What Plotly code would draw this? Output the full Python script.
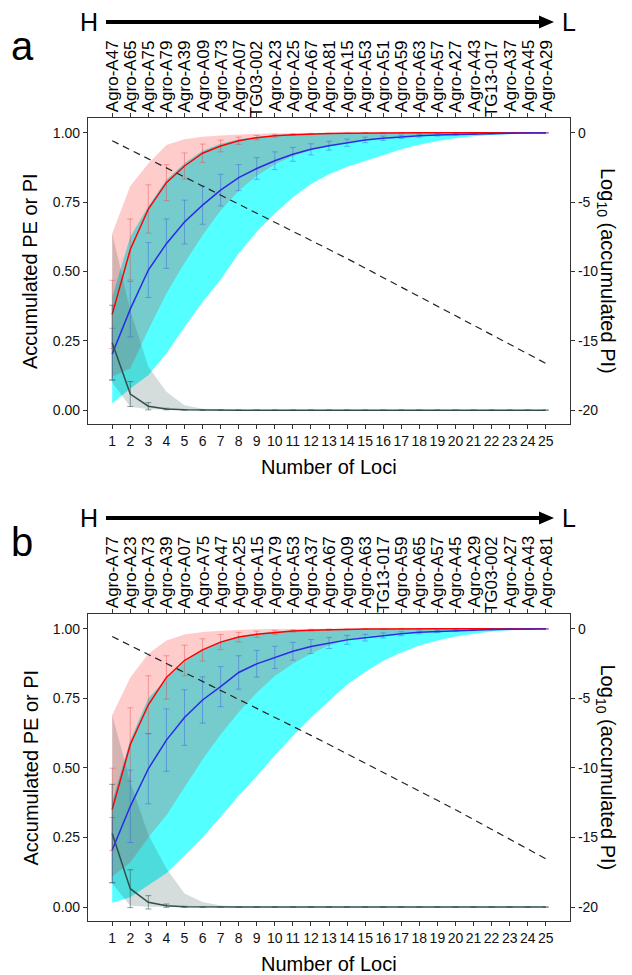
import plotly.graph_objects as go

# ---------------- data ----------------
loci = list(range(1, 26))

loci_names_a = ["Agro-A47", "Agro-A65", "Agro-A75", "Agro-A79", "Agro-A39", "Agro-A09", "Agro-A73",
                "Agro-A07", "TG03-002", "Agro-A23", "Agro-A25", "Agro-A67", "Agro-A81", "Agro-A15",
                "Agro-A53", "Agro-A51", "Agro-A59", "Agro-A63", "Agro-A57", "Agro-A27", "Agro-A43",
                "TG13-017", "Agro-A37", "Agro-A45", "Agro-A29"]
loci_names_b = ["Agro-A77", "Agro-A23", "Agro-A73", "Agro-A39", "Agro-A07", "Agro-A75", "Agro-A47",
                "Agro-A25", "Agro-A15", "Agro-A79", "Agro-A53", "Agro-A37", "Agro-A67", "Agro-A09",
                "Agro-A63", "TG13-017", "Agro-A59", "Agro-A65", "Agro-A57", "Agro-A45", "Agro-A29",
                "TG03-002", "Agro-A27", "Agro-A43", "Agro-A81"]

left_ticks = [0, 0.25, 0.5, 0.75, 1.0]
left_ticktext = ["0.00", "0.25", "0.50", "0.75", "1.00"]
right_ticks = [0, -5, -10, -15, -20]

# ---- panel a ----
red_a = [0.345, 0.579, 0.725, 0.82, 0.88, 0.926, 0.952, 0.971, 0.982, 0.989, 0.993, 0.996, 0.997,
         0.998, 0.999, 0.999, 1.0, 1.0, 1.0, 1.0, 1.0, 1.0, 1.0, 1.0, 1.0]
red_a_err = [0.123, 0.11, 0.087, 0.065, 0.047, 0.033, 0.021, 0.013, 0.008, 0.005, 0.003, 0.002,
             0.001, 0.001, 0.001, 0.0, 0.0, 0.0, 0.0, 0.0, 0.0, 0.0, 0.0, 0.0, 0.0]
red_a_hi = [0.637, 0.808, 0.889, 0.956, 0.976, 0.985, 0.99, 0.994, 0.996, 0.998, 0.999, 1.0, 1.0,
            1.0, 1.0, 1.0, 1.0, 1.0, 1.0, 1.0, 1.0, 1.0, 1.0, 1.0, 1.0]
red_a_lo = [0.12, 0.15, 0.29, 0.42, 0.53, 0.63, 0.72, 0.79, 0.845, 0.885, 0.915, 0.937, 0.953,
            0.966, 0.975, 0.982, 0.987, 0.991, 0.994, 0.996, 0.997, 0.998, 0.999, 1.0, 1.0]

blue_a = [0.202, 0.364, 0.505, 0.6, 0.678, 0.739, 0.793, 0.838, 0.871, 0.899, 0.922, 0.94, 0.953,
          0.964, 0.974, 0.98, 0.985, 0.989, 0.992, 0.994, 0.996, 0.997, 0.998, 0.999, 0.999]
blue_a_err = [0.093, 0.1, 0.099, 0.089, 0.079, 0.069, 0.057, 0.047, 0.039, 0.032, 0.025, 0.02,
              0.016, 0.013, 0.01, 0.008, 0.006, 0.005, 0.004, 0.003, 0.002, 0.002, 0.001, 0.001, 0.001]
blue_a_hi = [0.41, 0.625, 0.735, 0.83, 0.89, 0.935, 0.96, 0.976, 0.985, 0.99, 0.994, 0.996, 0.998,
             0.999, 0.999, 1.0, 1.0, 1.0, 1.0, 1.0, 1.0, 1.0, 1.0, 1.0, 1.0]
blue_a_lo = [0.024, 0.078, 0.126, 0.204, 0.3, 0.39, 0.47, 0.565, 0.643, 0.709, 0.767, 0.815, 0.85,
             0.877, 0.898, 0.92, 0.94, 0.957, 0.97, 0.98, 0.987, 0.992, 0.995, 0.997, 0.999]

pi_a = [0.243, 0.058, 0.014, 0.004, 0.001, 0.0, 0.0, 0.0, 0.0, 0.0, 0.0, 0.0, 0.0, 0.0, 0.0, 0.0,
        0.0, 0.0, 0.0, 0.0, 0.0, 0.0, 0.0, 0.0, 0.0]
pi_a_err = [0.135, 0.045, 0.013, 0.003, 0.001, 0.0, 0.0, 0.0, 0.0, 0.0, 0.0, 0.0, 0.0, 0.0, 0.0,
            0.0, 0.0, 0.0, 0.0, 0.0, 0.0, 0.0, 0.0, 0.0, 0.0]
pi_a_hi = [0.637, 0.36, 0.156, 0.066, 0.018, 0.005, 0.001, 0.0, 0.0, 0.0, 0.0, 0.0, 0.0, 0.0, 0.0,
           0.0, 0.0, 0.0, 0.0, 0.0, 0.0, 0.0, 0.0, 0.0, 0.0]
pi_a_lo = [0.1, 0.012, 0.003, 0.001, 0.0, 0.0, 0.0, 0.0, 0.0, 0.0, 0.0, 0.0, 0.0, 0.0, 0.0, 0.0,
           0.0, 0.0, 0.0, 0.0, 0.0, 0.0, 0.0, 0.0, 0.0]

logpi_a = [-0.58, -1.23, -1.88, -2.53, -3.18, -3.83, -4.48, -5.13, -5.78, -6.43, -7.08, -7.73,
           -8.38, -9.07, -9.76, -10.44, -11.13, -11.82, -12.5, -13.19, -13.88, -14.57, -15.25,
           -15.94, -16.63]

# ---- panel b ----
red_b = [0.351, 0.584, 0.727, 0.825, 0.886, 0.924, 0.952, 0.97, 0.98, 0.987, 0.992, 0.995, 0.997,
         0.998, 0.999, 0.999, 1.0, 1.0, 1.0, 1.0, 1.0, 1.0, 1.0, 1.0, 1.0]
red_b_err = [0.148, 0.132, 0.104, 0.078, 0.055, 0.04, 0.027, 0.017, 0.011, 0.007, 0.004, 0.003,
             0.002, 0.001, 0.001, 0.0, 0.0, 0.0, 0.0, 0.0, 0.0, 0.0, 0.0, 0.0, 0.0]
red_b_hi = [0.69, 0.825, 0.91, 0.958, 0.979, 0.988, 0.993, 0.996, 0.998, 0.999, 1.0, 1.0, 1.0,
            1.0, 1.0, 1.0, 1.0, 1.0, 1.0, 1.0, 1.0, 1.0, 1.0, 1.0, 1.0]
red_b_lo = [0.11, 0.16, 0.25, 0.33, 0.43, 0.53, 0.62, 0.7, 0.77, 0.83, 0.874, 0.91, 0.94, 0.96,
            0.972, 0.98, 0.986, 0.99, 0.993, 0.995, 0.997, 0.998, 0.999, 1.0, 1.0]

blue_b = [0.205, 0.362, 0.497, 0.6, 0.681, 0.744, 0.792, 0.843, 0.874, 0.897, 0.919, 0.936, 0.949,
          0.96, 0.968, 0.976, 0.982, 0.987, 0.99, 0.993, 0.995, 0.997, 0.998, 0.999, 0.999]
blue_b_err = [0.117, 0.13, 0.126, 0.112, 0.1, 0.083, 0.072, 0.06, 0.048, 0.04, 0.032, 0.025, 0.02,
              0.016, 0.012, 0.009, 0.007, 0.005, 0.004, 0.003, 0.002, 0.002, 0.001, 0.001, 0.001]
blue_b_hi = [0.38, 0.6, 0.75, 0.82, 0.88, 0.925, 0.955, 0.972, 0.983, 0.99, 0.994, 0.996, 0.998,
             0.999, 1.0, 1.0, 1.0, 1.0, 1.0, 1.0, 1.0, 1.0, 1.0, 1.0, 1.0]
blue_b_lo = [0.016, 0.035, 0.078, 0.122, 0.185, 0.25, 0.325, 0.4, 0.47, 0.545, 0.615, 0.68, 0.74,
             0.8, 0.845, 0.885, 0.915, 0.94, 0.958, 0.972, 0.982, 0.99, 0.995, 0.998, 1.0]

pi_b = [0.264, 0.066, 0.017, 0.005, 0.001, 0.0, 0.0, 0.0, 0.0, 0.0, 0.0, 0.0, 0.0, 0.0, 0.0, 0.0,
        0.0, 0.0, 0.0, 0.0, 0.0, 0.0, 0.0, 0.0, 0.0]
pi_b_err = [0.177, 0.068, 0.024, 0.006, 0.002, 0.0, 0.0, 0.0, 0.0, 0.0, 0.0, 0.0, 0.0, 0.0, 0.0,
            0.0, 0.0, 0.0, 0.0, 0.0, 0.0, 0.0, 0.0, 0.0, 0.0]
pi_b_hi = [0.69, 0.45, 0.26, 0.139, 0.049, 0.018, 0.006, 0.002, 0.0, 0.0, 0.0, 0.0, 0.0, 0.0, 0.0,
           0.0, 0.0, 0.0, 0.0, 0.0, 0.0, 0.0, 0.0, 0.0, 0.0]
pi_b_lo = [0.085, 0.005, 0.001, 0.0, 0.0, 0.0, 0.0, 0.0, 0.0, 0.0, 0.0, 0.0, 0.0, 0.0, 0.0, 0.0,
           0.0, 0.0, 0.0, 0.0, 0.0, 0.0, 0.0, 0.0, 0.0]

logpi_b = [-0.56, -1.2, -1.84, -2.48, -3.12, -3.76, -4.4, -5.05, -5.7, -6.35, -7.0, -7.66, -8.32,
           -8.98, -9.65, -10.32, -10.99, -11.66, -12.33, -13.0, -13.7, -14.4, -15.1, -15.8, -16.53]

# ---------------- styling / layout ----------------
OFF = 8                 # page body margin of the html page
W, H = 632 - OFF, 975 - OFF
FONT = "Liberation Sans, Arial, sans-serif"
AXC = "#333333"

CYAN = "rgba(0,255,255,0.67)"
PINK = "rgba(255,0,0,0.2)"
GRAY = "rgba(47,79,79,0.2)"
RED = "#FF0000"
BLUE = "#2A2AE6"
DARK = "#2F4F4F"

box_left, box_right = 88, 570
panels = [
    dict(top=118, bottom=424, names=loci_names_a, letter="a",
         red=red_a, red_err=red_a_err, red_hi=red_a_hi, red_lo=red_a_lo,
         blue=blue_a, blue_err=blue_a_err, blue_hi=blue_a_hi, blue_lo=blue_a_lo,
         pi=pi_a, pi_err=pi_a_err, pi_hi=pi_a_hi, pi_lo=pi_a_lo, logpi=logpi_a),
    dict(top=614, bottom=921, names=loci_names_b, letter="b",
         red=red_b, red_err=red_b_err, red_hi=red_b_hi, red_lo=red_b_lo,
         blue=blue_b, blue_err=blue_b_err, blue_hi=blue_b_hi, blue_lo=blue_b_lo,
         pi=pi_b, pi_err=pi_b_err, pi_hi=pi_b_hi, pi_lo=pi_b_lo, logpi=logpi_b),
]


def px(xp):
    return (xp - OFF) / W


def py(yp):
    return 1 - (yp - OFF) / H


fig = go.Figure()
annotations = []
shapes = []
layout_axes = {}

for i, p in enumerate(panels):
    xa = "x" if i == 0 else "x2"
    ya = "y" if i == 0 else "y3"
    ya2 = "y2" if i == 0 else "y4"
    xkey = "xaxis" if i == 0 else "xaxis2"
    ykey = "yaxis" if i == 0 else "yaxis3"
    y2key = "yaxis2" if i == 0 else "yaxis4"

    def band(hi, lo, color):
        fig.add_trace(go.Scatter(
            x=loci + loci[::-1], y=hi + lo[::-1], fill="toself", fillcolor=color,
            line=dict(width=0), mode="lines", hoverinfo="skip", showlegend=False,
            xaxis=xa, yaxis=ya))

    band(p["blue_hi"], p["blue_lo"], CYAN)
    band(p["red_hi"], p["red_lo"], PINK)
    band(p["pi_hi"], p["pi_lo"], GRAY)

    def line(y, err, color, ecolor):
        fig.add_trace(go.Scatter(
            x=loci, y=y, mode="lines", line=dict(color=color, width=1.5),
            error_y=dict(type="data", array=err, color=ecolor, thickness=1, width=3),
            showlegend=False, xaxis=xa, yaxis=ya))

    line(p["red"], p["red_err"], RED, "rgba(230,60,60,0.4)")
    line(p["blue"], p["blue_err"], BLUE, "rgba(40,60,230,0.35)")
    line(p["pi"], p["pi_err"], DARK, "rgba(47,79,79,0.55)")

    fig.add_trace(go.Scatter(
        x=loci, y=p["logpi"], mode="lines", line=dict(color="#222222", width=1.2, dash="7px,5px"),
        showlegend=False, xaxis=xa, yaxis=ya2))

    dom_y = [py(p["bottom"]), py(p["top"])]
    layout_axes[xkey] = dict(
        domain=[px(box_left), px(box_right)], range=[-0.34, 26.34], anchor=ya,
        tickmode="array", tickvals=loci, ticktext=[str(v) for v in loci],
        ticks="outside", ticklen=4, tickcolor=AXC, showline=True, linecolor=AXC, linewidth=1.2,
        mirror="allticks", showgrid=False, zeroline=False,
        tickfont=dict(family=FONT, size=14, color="#111111"))
    layout_axes[ykey] = dict(
        domain=dom_y, range=[-0.05, 1.053], anchor=xa,
        tickmode="array", tickvals=left_ticks, ticktext=left_ticktext,
        ticks="outside", ticklen=4, tickcolor=AXC, showline=True, linecolor=AXC, linewidth=1.2,
        mirror=True, showgrid=False, zeroline=False,
        tickfont=dict(family=FONT, size=14, color="#111111"))
    layout_axes[y2key] = dict(
        overlaying=ya, side="right", anchor=xa, range=[-21, 1.06],
        tickmode="array", tickvals=right_ticks, ticktext=[str(v) for v in right_ticks],
        ticks="outside", ticklen=4, tickcolor=AXC, showline=True, linecolor=AXC, linewidth=1.2,
        showgrid=False, zeroline=False,
        tickfont=dict(family=FONT, size=14, color="#111111"))

    top, bottom = p["top"], p["bottom"]
    mid = (top + bottom) / 2

    def txt(text, x, y, size, angle=0):
        annotations.append(dict(text=text, x=px(x), y=py(y), xref="paper", yref="paper",
                                xanchor="center", yanchor="middle", showarrow=False,
                                textangle=angle, font=dict(family=FONT, size=size, color="black")))

    # axis titles
    txt("Number of Loci", (box_left + box_right) / 2, bottom + 43, 20)
    txt("Accumulated PE or PI", 30, mid, 20, -90)
    txt("Log<sub>10</sub> (accumulated PI)", 606, mid, 20, 90)
    # locus names along top
    for k, name in zip(loci, p["names"]):
        annotations.append(dict(text=name, x=k, xref=xa, y=py(top - 80), yref="paper",
                                yanchor="top", xanchor="center", textangle=-90, showarrow=False,
                                font=dict(family=FONT, size=17, color="black")))
    # arrow H -> L and panel letter
    ay_px = top - 96
    txt("H", 89, ay_px, 25)
    txt("L", 569, ay_px, 25)
    txt(p["letter"], 22, top - 72, 40)
    shapes.append(dict(type="line", xref="paper", yref="paper", x0=px(106), x1=px(542),
                       y0=py(ay_px), y1=py(ay_px), line=dict(color="black", width=4)))
    shapes.append(dict(type="path", xref="paper", yref="paper",
                       path=f"M {px(539)} {py(ay_px - 6.5)} L {px(554)} {py(ay_px)} L {px(539)} {py(ay_px + 6.5)} Z",
                       fillcolor="black", line=dict(color="black", width=0)))

fig.update_layout(
    width=W, height=H, margin=dict(l=0, r=0, t=0, b=0),
    paper_bgcolor="white", plot_bgcolor="white", showlegend=False,
    annotations=annotations, shapes=shapes, **layout_axes)

fig.write_html("out.html")
